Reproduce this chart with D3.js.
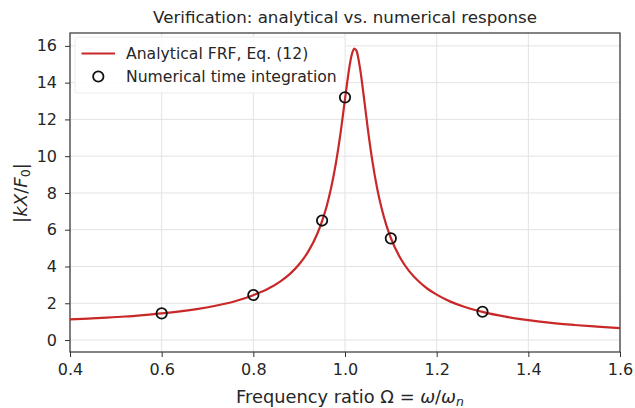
<!DOCTYPE html>
<html>
<head>
<meta charset="utf-8">
<script src="https://cdn.jsdelivr.net/npm/d3@7"></script>
<style>
  html, body { margin: 0; padding: 0; background: #fff; }
  svg { display: block; font-family: "DejaVu Sans", sans-serif; }
</style>
</head>
<body>
<svg id="chart" width="635" height="408"></svg>
<script>
// Frequency ratio samples of the analytical FRF curve
const ratio = [0.40, 0.44, 0.48, 0.52, 0.56, 0.60, 0.64, 0.68, 0.72, 0.76, 0.80,
  0.83, 0.86, 0.88, 0.90, 0.92, 0.94, 0.95, 0.96, 0.97, 0.98, 0.99, 1.00,
  1.005, 1.01, 1.015, 1.02, 1.025, 1.03, 1.035, 1.04, 1.05, 1.06, 1.07, 1.08,
  1.09, 1.10, 1.12, 1.14, 1.16, 1.18, 1.20, 1.23, 1.26, 1.30, 1.35, 1.40,
  1.45, 1.50, 1.55, 1.60];
// |kX/F0| of the analytical FRF at those ratios
const amplitude = [1.12, 1.17, 1.22, 1.28, 1.36, 1.45, 1.56, 1.70, 1.88, 2.11, 2.44,
  2.76, 3.21, 3.60, 4.12, 4.82, 5.81, 6.47, 7.28, 8.31, 9.60, 11.21, 13.10,
  14.05, 14.91, 15.54, 15.85, 15.74, 15.20, 14.41, 13.45, 11.45, 9.69, 8.27, 7.15,
  6.26, 5.55, 4.49, 3.75, 3.21, 2.79, 2.47, 2.09, 1.81, 1.53, 1.27, 1.08,
  0.93, 0.82, 0.73, 0.65];
// Numerical time-integration results
const simRatio = [0.60, 0.80, 0.95, 1.00, 1.10, 1.30];
const simAmplitude = [1.45, 2.45, 6.50, 13.20, 5.53, 1.54];
// Axis ticks
const xTicks = [0.4, 0.6, 0.8, 1.0, 1.2, 1.4, 1.6];
const yTicks = [0, 2, 4, 6, 8, 10, 12, 14, 16];

const svg = d3.select("#chart");
const plot = { left: 70, right: 620, top: 33, bottom: 352 };
const textColor = "#262626";
const lineColor = "#c82828";

const x = d3.scaleLinear().domain([0.4, 1.6]).range([plot.left, plot.right]);
const y = d3.scaleLinear().domain([-0.65, 16.7]).range([plot.bottom, plot.top]);

// Shrink or grow a text element's font so it spans the requested width
function fitWidth(sel, width) {
  const node = sel.node();
  const fs = parseFloat(sel.attr("font-size"));
  const len = node.getComputedTextLength();
  sel.attr("font-size", (fs * width / len).toFixed(2));
}

// Grid
const grid = svg.append("g");
grid.selectAll("line.gx").data(xTicks).join("line")
  .attr("x1", d => x(d)).attr("x2", d => x(d))
  .attr("y1", plot.top).attr("y2", plot.bottom)
  .attr("stroke", "#e3e3e3").attr("stroke-width", 1);
grid.selectAll("line.gy").data(yTicks).join("line")
  .attr("x1", plot.left).attr("x2", plot.right)
  .attr("y1", d => y(d)).attr("y2", d => y(d))
  .attr("stroke", "#e3e3e3").attr("stroke-width", 1);

// Axes
const xAxis = svg.append("g")
  .attr("transform", `translate(0,${plot.bottom})`)
  .call(d3.axisBottom(x).tickValues(xTicks).tickFormat(d3.format(".1f")).tickSize(5).tickPadding(7));
const yAxis = svg.append("g")
  .attr("transform", `translate(${plot.left},0)`)
  .call(d3.axisLeft(y).tickValues(yTicks).tickFormat(d3.format("d")).tickSize(5).tickPadding(8));
[xAxis, yAxis].forEach(g => {
  g.select(".domain").remove();
  g.selectAll(".tick line").attr("stroke", "#333").attr("stroke-width", 1);
  g.selectAll(".tick text").attr("font-size", 16).attr("fill", textColor)
    .attr("font-family", "DejaVu Sans");
});

// Frame
svg.append("rect")
  .attr("x", plot.left).attr("y", plot.top)
  .attr("width", plot.right - plot.left).attr("height", plot.bottom - plot.top)
  .attr("fill", "none").attr("stroke", "#333").attr("stroke-width", 1.2);

// Clip for data
svg.append("clipPath").attr("id", "clip").append("rect")
  .attr("x", plot.left).attr("y", plot.top)
  .attr("width", plot.right - plot.left).attr("height", plot.bottom - plot.top);

// Legend box (drawn before data so the curve passes over it)
svg.append("rect")
  .attr("x", 75).attr("y", 37).attr("width", 270).attr("height", 56)
  .attr("rx", 3).attr("fill", "#fff").attr("fill-opacity", 0.85)
  .attr("stroke", "#ececec").attr("stroke-width", 1);

// Analytical curve
const curve = ratio.map((r, i) => [r, amplitude[i]]);
svg.append("path")
  .datum(curve)
  .attr("clip-path", "url(#clip)")
  .attr("fill", "none")
  .attr("stroke", lineColor)
  .attr("stroke-width", 2.2)
  .attr("stroke-linejoin", "round")
  .attr("d", d3.line().x(d => x(d[0])).y(d => y(d[1])).curve(d3.curveMonotoneX));

// Numerical markers
svg.append("g").selectAll("circle")
  .data(simRatio.map((r, i) => [r, simAmplitude[i]]))
  .join("circle")
  .attr("cx", d => x(d[0])).attr("cy", d => y(d[1]))
  .attr("r", 5.2)
  .attr("fill", "none").attr("stroke", "#111").attr("stroke-width", 1.8);

// Legend entries
svg.append("line")
  .attr("x1", 81.5).attr("x2", 115).attr("y1", 53.5).attr("y2", 53.5)
  .attr("stroke", lineColor).attr("stroke-width", 2.2);
svg.append("circle")
  .attr("cx", 98.3).attr("cy", 76.5).attr("r", 5.2)
  .attr("fill", "none").attr("stroke", "#111").attr("stroke-width", 1.8);
const leg1 = svg.append("text").attr("x", 126).attr("y", 58.5)
  .attr("font-size", 14).attr("fill", textColor).text("Analytical FRF, Eq. (12)");
const leg2 = svg.append("text").attr("x", 126).attr("y", 81.5)
  .attr("font-size", 14).attr("fill", textColor).text("Numerical time integration");
fitWidth(leg2, 211);
leg1.attr("font-size", leg2.attr("font-size"));

// Title
const title = svg.append("text")
  .attr("x", 345).attr("y", 23).attr("text-anchor", "middle")
  .attr("font-size", 15).attr("fill", textColor)
  .text("Verification: analytical vs. numerical response");
fitWidth(title, 384);

// X axis label with math part
const xl = svg.append("text")
  .attr("x", 350).attr("y", 403).attr("text-anchor", "middle")
  .attr("font-size", 15).attr("fill", textColor);
xl.append("tspan").text("Frequency ratio ");
xl.append("tspan").text("Ω");
xl.append("tspan").text(" = ");
xl.append("tspan").attr("font-style", "italic").text("ω");
xl.append("tspan").text("/");
xl.append("tspan").attr("font-style", "italic").text("ω");
xl.append("tspan").attr("font-style", "italic").attr("font-size", "0.7em").attr("dy", 3).text("n");
fitWidth(xl, 228);

// Y axis label with math part
const yl = svg.append("text")
  .attr("transform", "translate(27,193) rotate(-90)")
  .attr("text-anchor", "middle")
  .attr("font-size", 15).attr("fill", textColor);
yl.append("tspan").text("|");
yl.append("tspan").attr("font-style", "italic").text("kX");
yl.append("tspan").text("/");
yl.append("tspan").attr("font-style", "italic").text("F");
yl.append("tspan").attr("font-size", "0.7em").attr("dy", 3).text("0");
yl.append("tspan").attr("dy", -3).text("|");
fitWidth(yl, 60);
</script>
</body>
</html>
